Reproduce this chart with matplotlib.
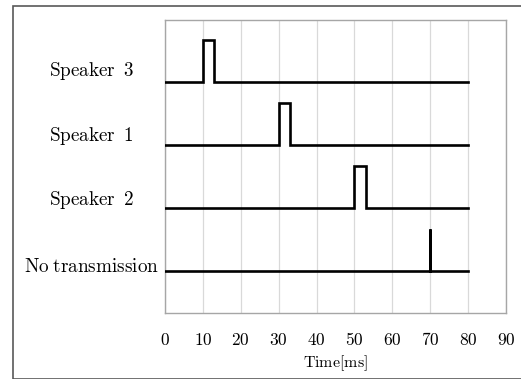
import numpy as np
import matplotlib.pyplot as plt
from matplotlib.patches import Rectangle

plt.rcParams['mathtext.fontset'] = 'cm'
plt.rcParams['font.family'] = 'serif'
plt.rcParams['font.serif'] = ['DejaVu Serif']

# channels from bottom to top
labels = ["No transmission", "Speaker 2", "Speaker 1", "Speaker 3"]
levels = [0, 1, 2, 3]
# pulse start / end time in ms (equal = spike only)
pulse_start = [70, 50, 30, 10]
pulse_end = [70, 53, 33, 13]
t_end = 80
pulse_height = 0.66
xticks = [0, 10, 20, 30, 40, 50, 60, 70, 80, 90]

fig = plt.figure(figsize=(5.21, 3.79), dpi=100)
ax = fig.add_axes([165/521, 1 - 313/379, (506-165)/521, (313-20)/379])

for lab, lv, a, b in zip(labels, levels, pulse_start, pulse_end):
    xs = [0, a, a, b, b, t_end]
    ys = [lv, lv, lv + pulse_height, lv + pulse_height, lv, lv]
    ax.plot(xs, ys, color='black', lw=1.9, solid_joinstyle='miter', zorder=3)

# label positions (a bit above each line)
offs = [0.06, 0.13, 0.14, 0.17]
spaces = [r'\;', r'\;\;', r'\;\;', r'\;\;']
for lab, lv, o, sp in zip(labels, levels, offs, spaces):
    ax.text(-0.215, lv + o, r'$\mathrm{' + lab.replace(' ', sp) + '}$',
            transform=ax.get_yaxis_transform(), ha='center', va='center',
            fontsize=13.8)

ax.set_xlim(0, 90)
ax.set_ylim(-0.667, 3.984)
ax.set_xticks(xticks)
ax.set_xticklabels([r'$\mathrm{%d}$' % v for v in xticks], fontsize=12.5)
ax.set_yticks([])
ax.tick_params(axis='x', length=0, pad=14)
ax.grid(axis='x', color='#d9d9d9', lw=0.9)
ax.set_axisbelow(True)
for s in ax.spines.values():
    s.set_color('#a6a6a6')
    s.set_linewidth(1.0)
ax.set_xlabel(r'$\mathrm{Time[ms]}$', fontsize=11.5, labelpad=3)

fig.patches.append(Rectangle((13/521, 0.5/379), 1.2, 372.5/379, transform=fig.transFigure,
                             fill=False, edgecolor='#595959', lw=1.2))

fig.savefig('out.png', dpi=100)
